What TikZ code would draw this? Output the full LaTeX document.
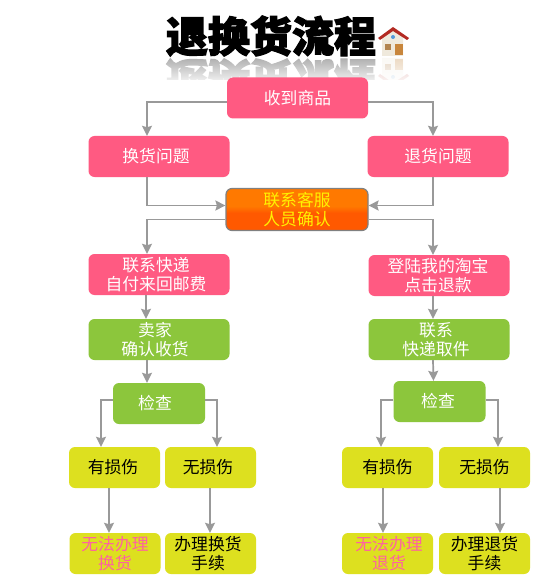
\documentclass[tikz,border=0pt]{standalone}
\usepackage{fontspec}
\setmainfont{Noto Sans CJK SC}
\newfontfamily\titlefont[BoldFeatures={FakeBold=3}]{Noto Sans CJK SC}
\usepackage{xcolor}
\usetikzlibrary{arrows.meta, fadings}
\definecolor{boxpink}{HTML}{FF5A82}
\definecolor{boxgreen}{HTML}{8CC63C}
\definecolor{boxyellow}{HTML}{DDE01F}
\definecolor{linkgray}{HTML}{999999}
\definecolor{textpink}{HTML}{FF62A0}
\definecolor{roofred}{HTML}{B32A22}
\definecolor{wallgray}{HTML}{EFE9DC}
\definecolor{doorbrown}{HTML}{C8863C}
\pgfdeclareverticalshading{serviceshade}{100bp}{
  color(0bp)=(orange!70!red); color(46bp)=(orange!70!red);
  color(54bp)=(orange!95!red); color(100bp)=(orange!95!red)}
\tikzset{
  >={Stealth[length=10,width=10,inset=1.5]},
  flowbox/.style={rounded corners=6,minimum height=41,inner sep=0,align=center,
    font=\fontsize{16.8}{19}\selectfont},
  pink box/.style={flowbox,fill=boxpink,text=white,minimum width=141},
  green box/.style={flowbox,fill=boxgreen,text=white,minimum width=141},
  check box/.style={flowbox,fill=boxgreen,text=white,minimum width=92},
  yellow box/.style={flowbox,fill=boxyellow,text=black,minimum width=91},
  service box/.style={flowbox,draw=gray,line width=1.2,shading=serviceshade,text=yellow,
    minimum width=142,minimum height=42},
  connect/.style={line width=1.7,linkgray},
  connect arrow/.style={connect,->},
  title text/.style={font=\titlefont\bfseries\fontsize{42}{42}\selectfont}
}
\newcommand{\pad}[1]{\rule{#1pt}{0pt}}
\newcommand{\drawhouse}{%
  \fill[wallgray] (382,35) -- (393,28) -- (403,35) -- (403,56) -- (382,56) -- cycle;
  \fill[roofred] (393,27) -- (409,38) -- (407,40) -- (393,31) -- (380,40) -- (378,38) -- cycle;
  \fill[doorbrown] (395,44) rectangle (403,55);
  \fill[doorbrown!70!gray] (385,44) rectangle (391,50);
  \fill[cyan!60!blue!70] (393,37) circle (2);
}
\begin{document}
\begin{tikzpicture}[x=1pt,y=-1pt]
  \useasboundingbox[fill=white] (0,0) rectangle (552,588);
  % titolo
  \begin{scope}
    \clip (160,57) rectangle (415,80);
    \node[title text,text=black!40,yscale=-1,transform shape,inner sep=0] (titlemirror) at (271,79) {退换货流程};
    \begin{scope}[yshift=-114,yscale=-1]
      \begin{scope}[opacity=0.35]
        \drawhouse
      \end{scope}
    \end{scope}
    \fill[white,path fading=north] (160,50) rectangle (415,86);
  \end{scope}
  \node[title text,inner sep=0] (title) at (271,36) {退换货流程};
  \drawhouse
  % prima riga
  \node[pink box] (receive) at (297.5,98) {收到商品};
  \node[pink box] (exchange) at (159,156.5) {换货问题\pad{6}};
  \node[pink box] (refund) at (438,156.5) {退货问题};
  \node[service box] (service) at (297,209.5) {联系客服\\人员确认};
  % ramo sinistro
  \node[pink box] (express) at (159,274.5) {联系快递\pad{6}\\自付来回邮费\pad{6}};
  \node[green box] (confirm) at (159,339.5) {卖家\pad{8}\\确认收货\pad{8}};
  \node[check box] (checkL) at (159,403.5) {检查\pad{8}};
  \node[yellow box] (damageL) at (114.5,467.5) {有损伤\pad{3}};
  \node[yellow box] (okL) at (210.5,467.5) {无损伤\pad{5}};
  \node[yellow box,text=textpink] (failL) at (115,553.5) {无法办理\\换货};
  \node[yellow box] (doneL) at (210.5,553.5) {办理换货\pad{5}\\手续\pad{5}};
  % ramo destro
  \node[pink box] (login) at (439,275.5) {登陆我的淘宝\pad{2}\\点击退款\pad{2}};
  \node[green box] (pickup) at (439,339.5) {联系\pad{6}\\快递取件\pad{6}};
  \node[check box] (checkR) at (439.5,401.5) {检查\pad{3}};
  \node[yellow box] (damageR) at (387.5,467.5) {有损伤};
  \node[yellow box] (okR) at (484.5,467.5) {无损伤};
  \node[yellow box,text=textpink] (failR) at (387.5,553.5) {\pad{3}无法办理\\\pad{3}退货};
  \node[yellow box] (doneR) at (484.5,553.5) {办理退货\\手续};
  % connessioni
  \draw[connect arrow] ([yshift=-4]receive.west) -| ([xshift=-12]exchange.north);
  \draw[connect arrow] ([yshift=-4]receive.east) -| ([xshift=-5]refund.north);
  \draw[connect arrow] ([xshift=-12]exchange.south) |- ([yshift=4]service.west);
  \draw[connect arrow] ([xshift=-5]refund.south) |- ([yshift=4]service.east);
  \draw[connect arrow] ([yshift=-10]service.west) -| ([xshift=-12]express.north);
  \draw[connect arrow] ([yshift=-10]service.east) -| ([xshift=-6]login.north);
  \draw[connect arrow] ([xshift=-13]express.south) -- ([xshift=-13]confirm.north);
  \draw[connect arrow] ([xshift=-12]confirm.south) -- ([xshift=-12]checkL.north);
  \draw[connect arrow] ([xshift=-6]login.south) -- ([xshift=-6]pickup.north);
  \draw[connect arrow] ([xshift=-6]pickup.south) -- ([xshift=-6]checkR.north);
  \draw[connect arrow] ([yshift=3.5]checkL.west) -| ([xshift=-13.5]damageL.north);
  \draw[connect arrow] ([yshift=3.5]checkL.east) -| ([xshift=6.5]okL.north);
  \draw[connect arrow] ([yshift=1.5]checkR.west) -| ([xshift=-6.5]damageR.north);
  \draw[connect arrow] ([yshift=1.5]checkR.east) -| ([xshift=13.5]okR.north);
  \draw[connect arrow] ([xshift=-5.5]damageL.south) -- ([xshift=-6]failL.north);
  \draw[connect arrow] ([xshift=-0.5]okL.south) -- ([xshift=-0.5]doneL.north);
  \draw[connect arrow] ([xshift=-4.5]damageR.south) -- ([xshift=-4.5]failR.north);
  \draw[connect arrow] ([xshift=15.5]okR.south) -- ([xshift=15.5]doneR.north);
\end{tikzpicture}
\end{document}
